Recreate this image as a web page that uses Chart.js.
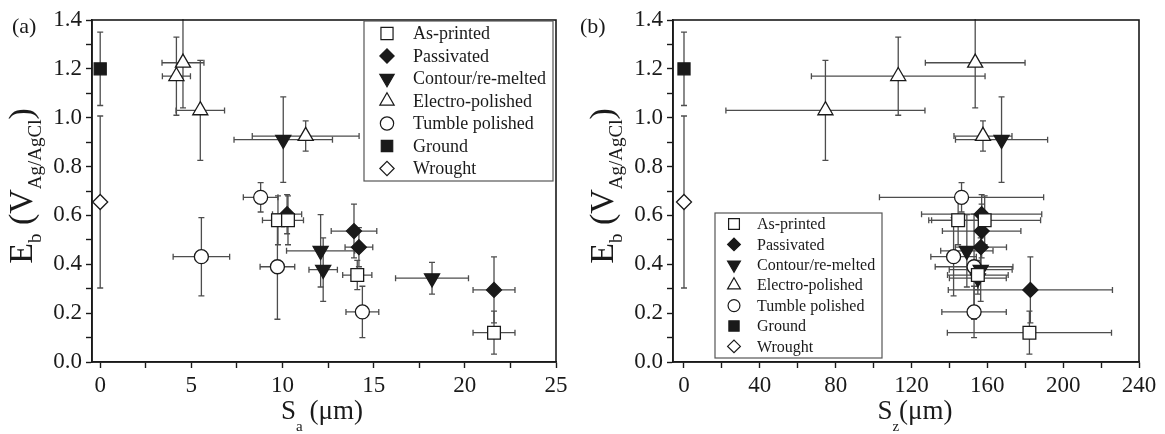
<!DOCTYPE html>
<html>
<head>
<meta charset="utf-8">
<script src="https://cdn.jsdelivr.net/npm/chart.js@4.4.0/dist/chart.umd.min.js"></script>
<style>
  body { margin: 0; background: #fff; }
  #wrap { position: relative; width: 1165px; height: 434px; overflow: hidden;
          font-family: "Liberation Serif", "Times New Roman", serif; color: #1a1a1a; }
  canvas { position: absolute; top: 0; }
  #chartA { left: 0; }
  #chartB { left: 580px; }
  .txt { position: absolute; white-space: nowrap; }
  .ytitle { font-size: 34px; line-height: 34px; transform: translate(-50%, -50%) rotate(-90deg); }
  .ytitle sub { font-size: 19px; vertical-align: -9px; line-height: 0; }
  .xtitle { font-size: 27px; line-height: 27px; transform: translateX(-50%); }
  .xtitle sub { font-size: 15px; vertical-align: -12px; line-height: 0; }
  .panel { font-size: 22px; line-height: 22px; }
</style>
</head>
<body>
<div id="wrap">
  <canvas id="chartA" width="575" height="434"></canvas>
  <canvas id="chartB" width="585" height="434"></canvas>
  <div class="txt panel" style="left:12px; top:15px;">(a)</div>
  <div class="txt panel" style="left:580px; top:15px;">(b)</div>
  <div class="txt ytitle" style="left:21px; top:186px;">E<sub>b</sub> (V<sub>Ag/AgCl</sub>)</div>
  <div class="txt ytitle" style="left:602px; top:186px;">E<sub>b</sub> (V<sub>Ag/AgCl</sub>)</div>
  <div class="txt xtitle" style="left:322px; top:397px;">S<sub>a</sub> (&mu;m)</div>
  <div class="txt xtitle" style="left:915px; top:397px;">S<sub>z</sub>(&mu;m)</div>
</div>
<script>
// ---- data ----
// Eb (V Ag/AgCl) is the same sample set in both panels, only the roughness axis changes
const asPrintedEb = [0.58, 0.58, 0.356, 0.12];
const asPrintedEbErr = [0.10, 0.10, 0.06, 0.088];
const asPrintedSa = [9.75, 10.3, 14.1, 21.6];
const asPrintedSaErr = [0.85, 0.85, 0.8, 1.15];
const asPrintedSz = [144.6, 158.6, 155, 182.2];
const asPrintedSzErr = [14, 29.5, 16, 43.3];

const passivatedEb = [0.605, 0.536, 0.47, 0.295];
const passivatedEbErr = [0.08, 0.11, 0.08, 0.135];
const passivatedSa = [10.25, 13.92, 14.19, 21.6];
const passivatedSaErr = [0.8, 1.25, 0.76, 1.15];
const passivatedSz = [157, 157, 156.6, 182.7];
const passivatedSzErr = [31.7, 20.7, 13.5, 43.3];

const contourEb = [0.91, 0.455, 0.378, 0.343];
const contourEbErr = [0.175, 0.148, 0.13, 0.065];
const contourSa = [10.04, 12.09, 12.23, 18.2];
const contourSaErr = [2.7, 1.87, 0.78, 2.0];
const contourSz = [167.5, 149.2, 156.5, 155];
const contourSzErr = [24.3, 13.8, 16.6, 15];

const electroEb = [1.225, 1.17, 1.03, 0.925];
const electroEbErr = [0.185, 0.16, 0.205, 0.062];
const electroSa = [4.54, 4.18, 5.49, 11.27];
const electroSaErr = [1.15, 0.77, 1.33, 2.93];
const electroSz = [153.6, 113, 74.6, 157.7];
const electroSzErr = [26.3, 45.8, 52.5, 15.3];

const tumbleEb = [0.674, 0.431, 0.39, 0.205];
const tumbleEbErr = [0.06, 0.16, 0.215, 0.105];
const tumbleSa = [8.8, 5.55, 9.72, 14.38];
const tumbleSaErr = [0.95, 1.55, 0.95, 0.9];
const tumbleSz = [146.4, 142.2, 153, 153];
const tumbleSzErr = [43.3, 12, 20.5, 17];

const groundEb = [1.2];
const groundEbErr = [0.15];
const groundSa = [0];
const groundSz = [0];

const wroughtEb = [0.655];
const wroughtEbErr = [0.352];
const wroughtSa = [0];
const wroughtSz = [0];

const yTickValues = [0, 0.2, 0.4, 0.6, 0.8, 1.0, 1.2, 1.4];
const yTickLabels = ['0.0', '0.2', '0.4', '0.6', '0.8', '1.0', '1.2', '1.4'];
const yMinorTicks = [0.1, 0.3, 0.5, 0.7, 0.9, 1.1, 1.3];
const saTickValues = [0, 5, 10, 15, 20, 25];
const saMinorTicks = [2.5, 7.5, 12.5, 17.5, 22.5];
const szTickValues = [0, 40, 80, 120, 160, 200, 240];
const szMinorTicks = [20, 60, 100, 140, 180, 220];

const INK = '#1a1a1a';
const BAR = '#4d4d4d';
const FONT = '"Liberation Serif", "Times New Roman", serif';

// marker looks
const looks = {
  'As-printed':       { pointStyle: 'rect', rot: 0, r: 9, fill: '#fff' },
  'Passivated':       { pointStyle: 'rectRot', rot: 0, r: 7.5, fill: INK },
  'Contour/re-melted':{ pointStyle: 'triangle', rot: 180, r: 8.7, fill: INK },
  'Electro-polished': { pointStyle: 'triangle', rot: 0, r: 8.7, fill: '#fff' },
  'Tumble polished':  { pointStyle: 'circle', rot: 0, r: 7, fill: '#fff' },
  'Ground':           { pointStyle: 'rect', rot: 0, r: 8.5, fill: INK },
  'Wrought':          { pointStyle: 'rectRot', rot: 0, r: 7.5, fill: '#fff' }
};

function series(label, xs, xErr, ys, yErr) {
  const l = looks[label];
  return {
    label: label,
    data: xs.map((x, i) => ({ x: x, y: ys[i] })),
    xErr: xErr,
    yErr: yErr,
    pointStyle: l.pointStyle,
    pointRotation: l.rot,
    pointRadius: l.r,
    pointHoverRadius: l.r,
    backgroundColor: l.fill,
    borderColor: INK,
    borderWidth: 1.3,
    showLine: false
  };
}

// error bars drawn under the markers, through the chart scales
const errorBars = {
  id: 'errorBars',
  beforeDatasetsDraw(chart) {
    const { ctx, chartArea, scales } = chart;
    const xs = scales.x, ys = scales.y;
    const cap = 3;
    ctx.save();
    ctx.beginPath();
    ctx.rect(chartArea.left, chartArea.top - 1, chartArea.right - chartArea.left, chartArea.bottom - chartArea.top + 1);
    ctx.clip();
    ctx.strokeStyle = BAR;
    ctx.lineWidth = 1.3;
    chart.data.datasets.forEach(ds => {
      ds.data.forEach((p, i) => {
        const px = xs.getPixelForValue(p.x);
        const py = ys.getPixelForValue(p.y);
        const ey = ds.yErr ? ds.yErr[i] : 0;
        const ex = ds.xErr ? ds.xErr[i] : 0;
        ctx.beginPath();
        if (ey) {
          const y1 = ys.getPixelForValue(p.y - ey);
          const y2 = ys.getPixelForValue(p.y + ey);
          ctx.moveTo(px, y1); ctx.lineTo(px, y2);
          ctx.moveTo(px - cap, y1); ctx.lineTo(px + cap, y1);
          ctx.moveTo(px - cap, y2); ctx.lineTo(px + cap, y2);
        }
        if (ex) {
          const x1 = xs.getPixelForValue(p.x - ex);
          const x2 = xs.getPixelForValue(p.x + ex);
          ctx.moveTo(x1, py); ctx.lineTo(x2, py);
          ctx.moveTo(x1, py - cap); ctx.lineTo(x1, py + cap);
          ctx.moveTo(x2, py - cap); ctx.lineTo(x2, py + cap);
        }
        ctx.stroke();
      });
    });
    ctx.restore();
  }
};

// full box around the plot + the boxed legend
const frameAndLegend = {
  id: 'frameAndLegend',
  afterDraw(chart, args, opts) {
    const { ctx, chartArea } = chart;
    ctx.save();
    ctx.strokeStyle = INK;
    ctx.lineWidth = 1.6;
    ctx.strokeRect(chartArea.left, chartArea.top, chartArea.right - chartArea.left, chartArea.bottom - chartArea.top);

    const b = opts.box;
    ctx.fillStyle = '#fff';
    ctx.fillRect(b.left, b.top, b.width, b.height);
    ctx.strokeStyle = '#555';
    ctx.lineWidth = 1.2;
    ctx.strokeRect(b.left, b.top, b.width, b.height);

    ctx.font = opts.fontSize + 'px ' + FONT;
    ctx.textBaseline = 'middle';
    ctx.textAlign = 'left';
    chart.data.datasets.forEach((ds, i) => {
      const yy = b.firstRow + i * b.rowStep;
      const l = looks[ds.label];
      ctx.fillStyle = l.fill;
      ctx.strokeStyle = INK;
      ctx.lineWidth = 1.2;
      Chart.helpers.drawPoint(ctx, {
        pointStyle: l.pointStyle,
        rotation: l.rot,
        radius: l.r * opts.markerScale,
        borderWidth: 1.2
      }, b.markerX, yy);
      ctx.fillStyle = INK;
      ctx.fillText(ds.label, b.textX, yy + 1);
    });
    ctx.restore();
  }
};

function tickSetter(major, minor) {
  return function (scale) {
    scale.ticks = major.concat(minor).sort((a, b) => a - b).map(v => ({ value: v }));
  };
}

function makeChart(id, datasets, xMin, xMax, xMajor, xMinor, xLabels, yWidth, padRight, legend) {
  return new Chart(document.getElementById(id), {
    type: 'scatter',
    data: { datasets: datasets },
    plugins: [errorBars, frameAndLegend],
    options: {
      responsive: false,
      animation: false,
      layout: { padding: { top: 20, right: padRight, left: 0, bottom: 0 } },
      plugins: {
        legend: { display: false },
        tooltip: { enabled: false },
        frameAndLegend: legend
      },
      scales: {
        x: {
          type: 'linear',
          min: xMin,
          max: xMax,
          afterBuildTicks: tickSetter(xMajor, xMinor),
          afterFit: s => { s.height = 72; },
          grid: { drawOnChartArea: false, tickLength: 6, tickColor: INK, tickWidth: 1.4 },
          border: { color: INK, width: 1.6 },
          ticks: {
            autoSkip: false, maxRotation: 0, padding: 4, color: INK,
            font: { family: FONT, size: 23 },
            callback: v => { const k = xMajor.indexOf(v); return k < 0 ? '' : xLabels[k]; }
          }
        },
        y: {
          type: 'linear',
          min: 0,
          max: 1.4,
          afterBuildTicks: tickSetter(yTickValues, yMinorTicks),
          afterFit: s => { s.width = yWidth; },
          grid: { drawOnChartArea: false, tickLength: 6, tickColor: INK, tickWidth: 1.4 },
          border: { color: INK, width: 1.6 },
          ticks: {
            autoSkip: false, padding: 4, color: INK,
            font: { family: FONT, size: 23 },
            callback: v => { const k = yTickValues.indexOf(v); return k < 0 ? '' : yTickLabels[k]; }
          }
        }
      }
    }
  });
}

const dataA = [
  series('As-printed', asPrintedSa, asPrintedSaErr, asPrintedEb, asPrintedEbErr),
  series('Passivated', passivatedSa, passivatedSaErr, passivatedEb, passivatedEbErr),
  series('Contour/re-melted', contourSa, contourSaErr, contourEb, contourEbErr),
  series('Electro-polished', electroSa, electroSaErr, electroEb, electroEbErr),
  series('Tumble polished', tumbleSa, tumbleSaErr, tumbleEb, tumbleEbErr),
  series('Ground', groundSa, null, groundEb, groundEbErr),
  series('Wrought', wroughtSa, null, wroughtEb, wroughtEbErr)
];

const dataB = [
  series('As-printed', asPrintedSz, asPrintedSzErr, asPrintedEb, asPrintedEbErr),
  series('Passivated', passivatedSz, passivatedSzErr, passivatedEb, passivatedEbErr),
  series('Contour/re-melted', contourSz, contourSzErr, contourEb, contourEbErr),
  series('Electro-polished', electroSz, electroSzErr, electroEb, electroEbErr),
  series('Tumble polished', tumbleSz, tumbleSzErr, tumbleEb, tumbleEbErr),
  series('Ground', groundSz, null, groundEb, groundEbErr),
  series('Wrought', wroughtSz, null, wroughtEb, wroughtEbErr)
];

makeChart('chartA', dataA, -0.45, 25, saTickValues, saMinorTicks, saTickValues.map(String), 92, 19, {
  box: { left: 364, top: 21, width: 189, height: 160, firstRow: 33.5, rowStep: 22.5, markerX: 387, textX: 413 },
  fontSize: 18, markerScale: 0.95
});

makeChart('chartB', dataB, -5.8, 240, szTickValues, szMinorTicks, szTickValues.map(String), 93, 26, {
  box: { left: 135, top: 213, width: 167, height: 145, firstRow: 224, rowStep: 20.4, markerX: 154, textX: 177 },
  fontSize: 16, markerScale: 0.85
});
</script>
</body>
</html>
